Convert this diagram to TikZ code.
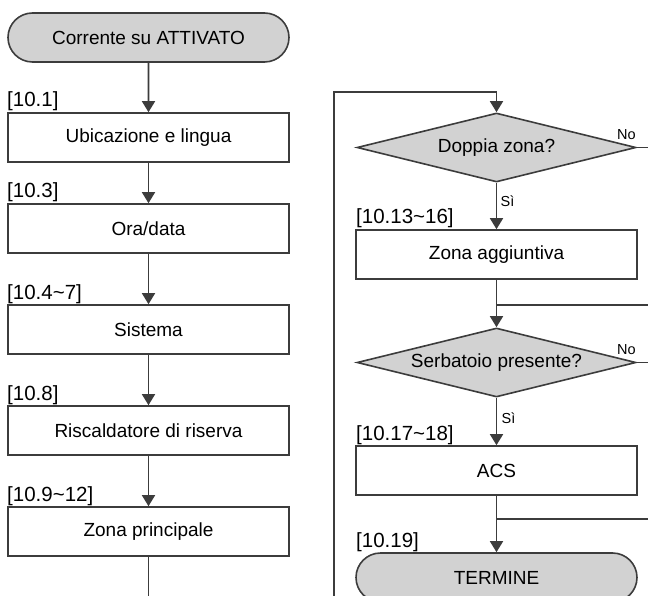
\documentclass[tikz,border=0pt]{standalone}
\usepackage{fontspec}
\setmainfont{Liberation Sans}
\usetikzlibrary{shapes.geometric,shapes.misc,arrows.meta}
\definecolor{lnc}{RGB}{60,60,60}
\definecolor{fillg}{RGB}{210,210,210}
\tikzset{
  base/.style={draw=lnc, line width=1.6pt, inner sep=0pt, font=\fontsize{19}{21}\selectfont},
  procbox/.style={base, rectangle, minimum width=281pt, minimum height=49pt},
  termbox/.style={base, rounded rectangle, fill=fillg, minimum width=281pt, minimum height=49pt},
  decbox/.style={base, diamond, fill=fillg, aspect=4, minimum width=279pt, minimum height=69pt},
  reflab/.style={inner sep=0pt, anchor=base west, font=\fontsize{20.5}{22}\selectfont},
  small/.style={inner sep=0pt, anchor=base west, font=\fontsize{14.5}{16}\selectfont},
  conn/.style={draw=lnc, line width=1.6pt},
  arr/.style={conn, -{Triangle[width=13pt,length=11pt]}}
}
\begin{document}
\begin{tikzpicture}[x=1pt,y=-1pt]
\clip (0,0) rectangle (648,596);
% left column
\node[termbox] (start) at (148.5,37.5) {Corrente su ATTIVATO};
\node[procbox] (b1) at (148.5,137.5) {Ubicazione e lingua};
\node[procbox] (b2) at (148.5,228.5) {Ora/data};
\node[procbox] (b3) at (148.5,329.5) {Sistema};
\node[procbox] (b4) at (148.5,430.5) {Riscaldatore di riserva};
\node[procbox] (b5) at (148.5,531.5) {Zona principale};
\node[reflab] (l1) at (7,107) {[10.1]};
\node[reflab] (l2) at (7,198) {[10.3]};
\node[reflab] (l3) at (7,299) {[10.4\textasciitilde 7]};
\node[reflab] (l4) at (7,400) {[10.8]};
\node[reflab] (l5) at (7,501) {[10.9\textasciitilde 12]};
% right column
\node[decbox] (d1) at (496.5,147.5) {Doppia zona?};
\node[procbox] (b6) at (496.5,254.5) {Zona aggiuntiva};
\node[decbox] (d2) at (496.5,362.5) {Serbatoio presente?};
\node[procbox] (b7) at (496.5,470.5) {ACS};
\node[termbox] (end) at (496.5,577.5) {TERMINE};
\node[reflab] (l6) at (356,224) {[10.13\textasciitilde 16]};
\node[reflab] (l7) at (356,440) {[10.17\textasciitilde 18]};
\node[reflab] (l8) at (356,547) {[10.19]};
\node[small] (no1) at (617,140) {No};
\node[small] (no2) at (617,354) {No};
\node[small] (si1) at (500.5,207) {Sì};
\node[small] (si2) at (501.5,423) {Sì};
\coordinate (top) at (496.5,92);
\coordinate (loopb) at (334,630);
\coordinate (m1) at (496.5,305);
\coordinate (m2) at (496.5,519);
\coordinate (r1) at (670,0);
% connectors
\draw[arr] (start) -- (b1);
\draw[arr] (b1) -- (b2);
\draw[arr] (b2) -- (b3);
\draw[arr] (b3) -- (b4);
\draw[arr] (b4) -- (b5);
\draw[conn] (b5.south) |- (loopb) |- (top);
\draw[arr] (top) -- (d1.north);
\draw[arr] (d1.south) -- (b6.north);
\draw[conn] (d1.east) -- (d1.east -| r1) |- (m1);
\draw[arr] (b6.south) -- (d2.north);
\draw[arr] (d2.south) -- (b7.north);
\draw[conn] (d2.east) -- (d2.east -| r1) |- (m2);
\draw[arr] (b7.south) -- (end.north);
\end{tikzpicture}
\end{document}
